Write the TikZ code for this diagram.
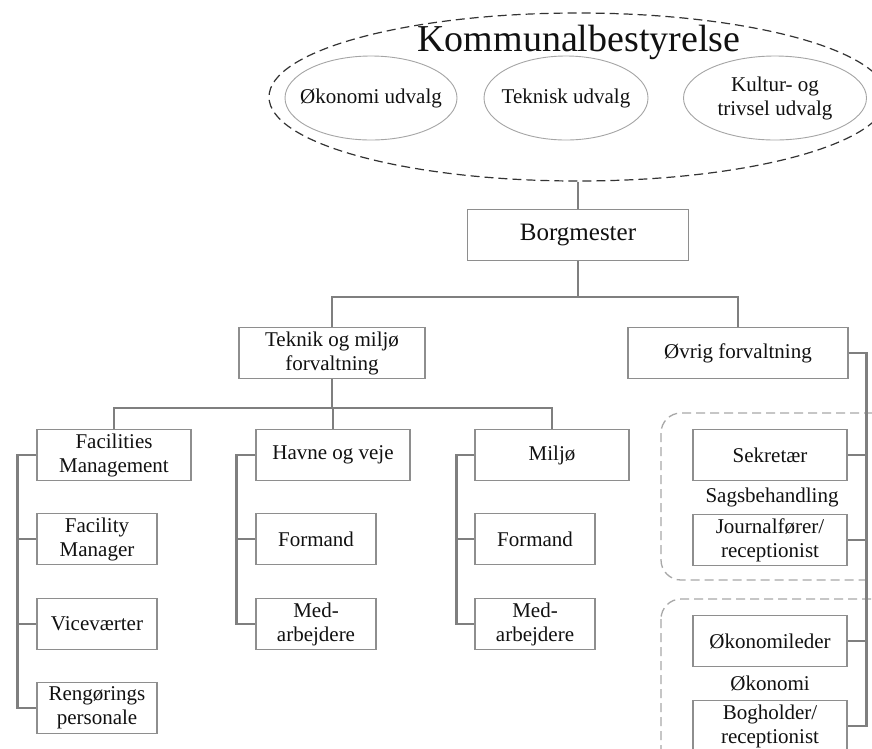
\documentclass[tikz,border=0pt]{standalone}
\usepackage{fontspec}
\setmainfont{Liberation Serif}
\usetikzlibrary{positioning,shapes.geometric}
\definecolor{Frame}{HTML}{8E8E8E}
\definecolor{Wire}{HTML}{7F7F7F}
\definecolor{Rim}{HTML}{A8A8A8}
\definecolor{Ink}{HTML}{111111}

\begin{document}
\begin{tikzpicture}[x=1pt,y=-1pt,
    unit/.style={draw=Frame,line width=1.2pt,fill=white,minimum height=51pt,inner sep=1pt,align=center,text=Ink,font=\fontsize{21}{24}\selectfont},
    sub/.style={unit,minimum width=120pt},
    staff/.style={unit,minimum width=154pt},
    board/.style={ellipse,draw=Frame!80,line width=0.9pt,minimum height=84pt,inner sep=0pt},
    note/.style={align=center,text=Ink,font=\fontsize{21}{24}\selectfont},
    link/.style={draw=Wire,line width=2.6pt},
    group/.style={draw=Rim,dashed,dash pattern=on 9pt off 5pt,line width=1.3pt,rounded corners=20pt}]
    \clip (0,0) rectangle (872,748);
    \fill[white] (0,0) rectangle (872,748);

    % kommunalbestyrelse
    \node[ellipse,draw=black!80,dashed,dash pattern=on 9pt off 5pt,line width=1.2pt,minimum width=618pt,minimum height=168pt] (kb) at (578,97) {};
    \node[anchor=base,text=Ink,font=\fontsize{38}{42}\selectfont] (title) at (579,51) {Kommunalbestyrelse};
    \node[board,minimum width=172pt] (oeu) at (371,98) {};
    \node[board,minimum width=164pt] (tu) at (566,98) {};
    \node[board,minimum width=183pt] (ktu) at (775,98) {};
    \node[note] (oeut) at (oeu) {Økonomi udvalg};
    \node[note] (tut) at (tu) {Teknisk udvalg};
    \node[note] (ktut) at (ktu) {Kultur- og\\trivsel udvalg};

    % forvaltninger
    \node[unit,minimum width=221pt,font=\fontsize{25}{28}\selectfont] (bm) at (578,235) {Borgmester};
    \node[unit,minimum width=186pt] (tmf) at (332,353) {Teknik og miljø\\forvaltning};
    \node[unit,minimum width=220pt] (ovf) at (738,353) {Øvrig forvaltning};

    \node[staff] (fm) at (114,455) {Facilities\\Management};
    \node[staff] (hv) at (333,455) {Havne og veje};
    \node[staff] (mj) at (552,455) {Miljø};

    \node[sub] (fym) at (97,539) {Facility\\Manager};
    \node[sub] (vv) at (97,624) {Viceværter};
    \node[sub] (rp) at (97,708) {Rengørings\\personale};
    \node[sub] (hf) at (316,539) {Formand};
    \node[sub] (hm) at (316,624) {Med-\\arbejdere};
    \node[sub] (mf) at (535,539) {Formand};
    \node[sub] (mm) at (535,624) {Med-\\arbejdere};

    % øvrig
    \draw[group] (661,413) rectangle (910,580);
    \draw[group] (661,599) rectangle (910,800);
    \node[staff] (sk) at (770,455) {Sekretær};
    \node[note] (sb) at (772,497) {Sagsbehandling};
    \node[staff] (jr) at (770,540) {Journalfører/\\receptionist};
    \node[staff] (ok) at (770,641) {Økonomileder};
    \node[note] (oe) at (770,683) {Økonomi};
    \node[staff] (bh) at (770,726) {Bogholder/\\receptionist};

    % forbindelser
    \draw[link] (kb.south) -- (bm.north);
    \draw[link] (bm.south) -- ++(0,36) -| (tmf.north);
    \draw[link] (bm.south) -- ++(0,36) -| (ovf.north);
    \draw[link] (tmf.south) -- ++(0,29) -| (fm.north);
    \draw[link] (tmf.south) -- ++(0,29) -| (hv.north);
    \draw[link] (tmf.south) -- ++(0,29) -| (mj.north);
    \foreach \k in {fym,vv,rp}{\draw[link] (fm.west) -- ++(-19,0) |- (\k.west);}
    \foreach \k in {hf,hm}{\draw[link] (hv.west) -- ++(-19,0) |- (\k.west);}
    \foreach \k in {mf,mm}{\draw[link] (mj.west) -- ++(-18,0) |- (\k.west);}
    \foreach \k in {sk,jr,ok,bh}{\draw[link] (ovf.east) -- ++(18,0) |- (\k.east);}
\end{tikzpicture}
\end{document}
